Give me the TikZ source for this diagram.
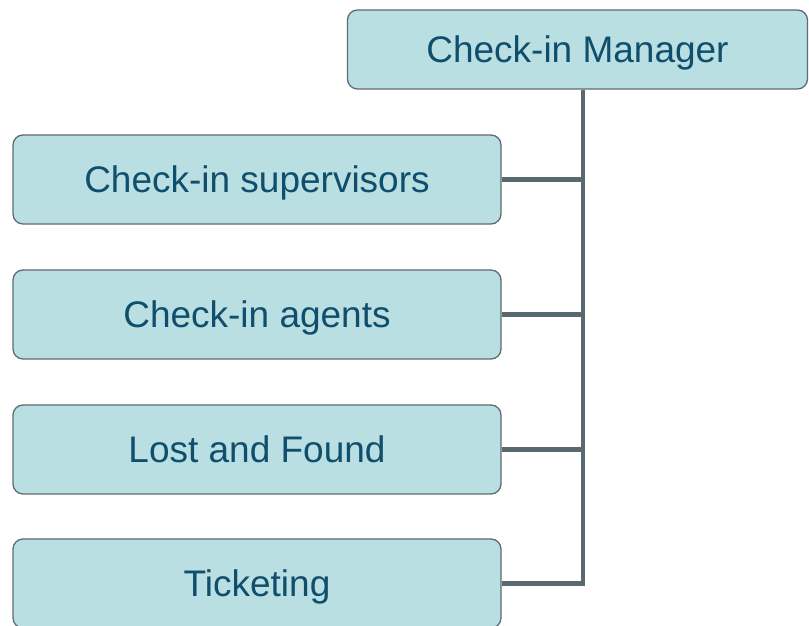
\documentclass[tikz,border=0pt]{standalone}
\usepackage{fontspec}
\setmainfont{Liberation Sans}
\definecolor{boxfill}{HTML}{B9DFE2}
\definecolor{boxline}{HTML}{5F6B72}
\definecolor{boxtext}{HTML}{0F4E6C}
\definecolor{linkgray}{HTML}{5A6870}
\begin{document}
\begin{tikzpicture}[x=1pt, y=1pt,
    orgbox/.style={draw=boxline, line width=1.3pt, fill=boxfill, rounded corners=10pt,
        text=boxtext, font=\fontsize{37}{44}\selectfont, inner sep=0pt,
        text height=26pt, text depth=0pt},
    link/.style={draw=linkgray, line width=4.5pt}]
    \useasboundingbox (0,0) rectangle (809,626);

    % Chef (en haut)
    \node[orgbox, minimum width=460pt, minimum height=79pt] (mgr) at (577.5,576.5) {Check-in Manager};

    % Equipes
    \begin{scope}[every node/.style={orgbox, minimum width=488pt, minimum height=89pt}]
        \node (sup) at (257,446.5) {Check-in supervisors};
        \node (agt) at (257,311.5) {Check-in agents};
        \node (lost) at (257,176.5) {Lost and Found};
        \node (tick) at (257,42.5) {Ticketing};
    \end{scope}

    % Tronc vertical
    \coordinate (trunk) at (583,0);
    \draw[link] (mgr.south -| trunk) -- (trunk |- tick.east) -- (tick.east);

    % Branches
    \draw[link] (sup.east) -- (sup.east -| trunk);
    \draw[link] (agt.east) -- (agt.east -| trunk);
    \draw[link] (lost.east) -- (lost.east -| trunk);
\end{tikzpicture}
\end{document}
